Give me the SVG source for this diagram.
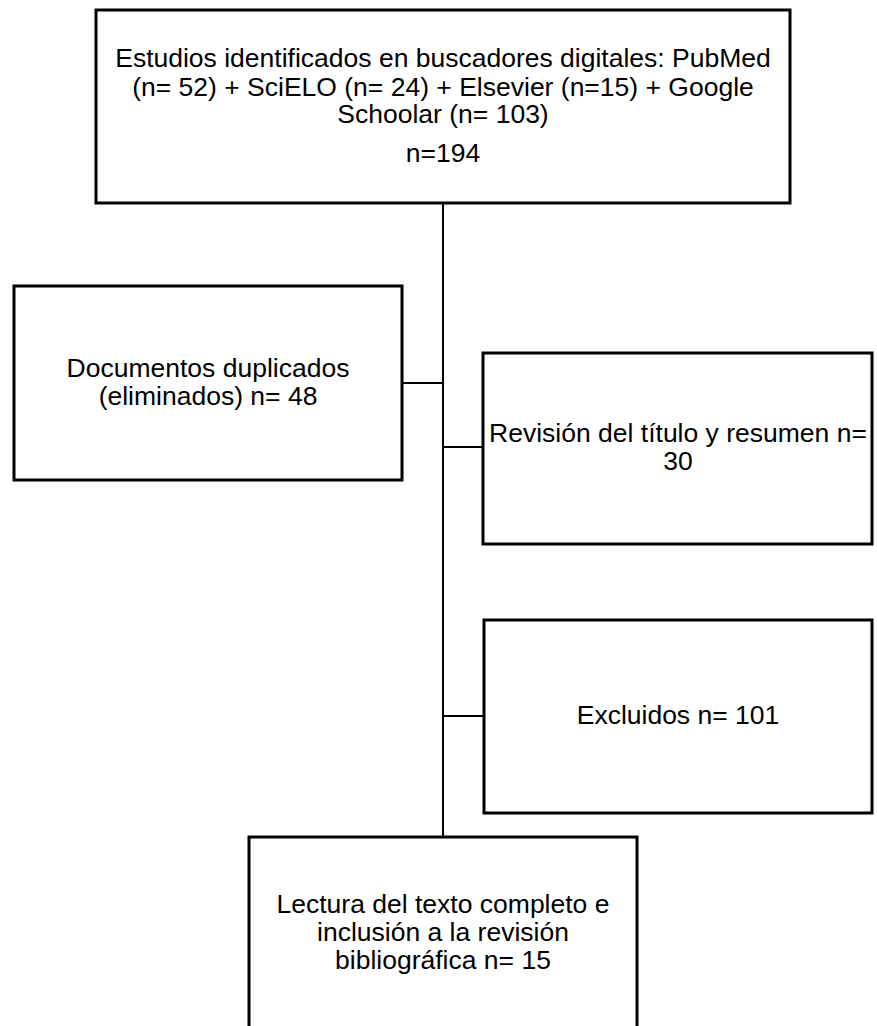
<svg xmlns="http://www.w3.org/2000/svg" width="877" height="1026" viewBox="0 0 877 1026">
<style>
.box{fill:#fff;stroke:#000;stroke-width:3}
.conn{fill:none;stroke:#000;stroke-width:2}
text{font-family:"Liberation Sans",Arial,sans-serif;font-size:26.5px;fill:#000;text-anchor:middle}
</style>
<rect width="877" height="1026" fill="#fff"/>
<g id="connectors">
<line class="conn" x1="443" y1="203" x2="443" y2="837"/>
<line class="conn" x1="402" y1="383" x2="443" y2="383"/>
<line class="conn" x1="443" y1="447" x2="483" y2="447"/>
<line class="conn" x1="443" y1="716" x2="484" y2="716"/>
</g>
<g id="n1">
<rect class="box" x="96" y="10" width="694" height="193"/>
<text x="443" y="67">Estudios identificados en buscadores digitales: PubMed</text>
<text x="443" y="96">(n= 52) + SciELO (n= 24) + Elsevier (n=15) + Google</text>
<text x="443" y="123">Schoolar (n= 103)</text>
<text x="443" y="162">n=194</text>
</g>
<g id="n2">
<rect class="box" x="14" y="286" width="388" height="194"/>
<text x="208" y="377">Documentos duplicados</text>
<text x="208" y="405">(eliminados) n= 48</text>
</g>
<g id="n3">
<rect class="box" x="483" y="353" width="389" height="191"/>
<text x="678" y="442">Revisión del título y resumen n=</text>
<text x="678" y="470">30</text>
</g>
<g id="n4">
<rect class="box" x="484" y="620" width="388" height="193"/>
<text x="678" y="724">Excluidos n= 101</text>
</g>
<g id="n5">
<rect class="box" x="249" y="837" width="388" height="200"/>
<text x="443" y="913">Lectura del texto completo e</text>
<text x="443" y="941">inclusión a la revisión</text>
<text x="443" y="969">bibliográfica n= 15</text>
</g>
</svg>
